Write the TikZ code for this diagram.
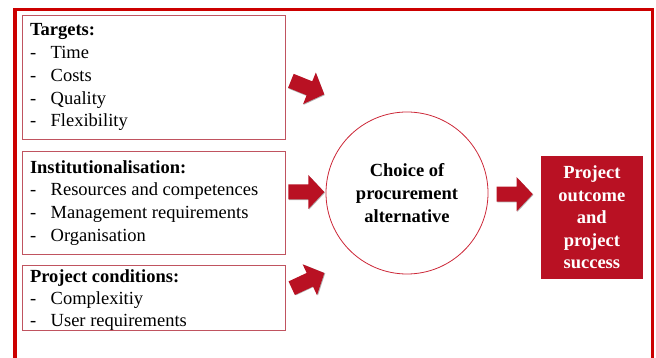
\documentclass[tikz,border=0pt]{standalone}
\usepackage{fontspec}
\setmainfont{Liberation Serif}
\definecolor{framered}{RGB}{204,0,0}
\definecolor{boxedge}{RGB}{192,84,96}
\definecolor{circedge}{RGB}{204,40,56}
\definecolor{crimson}{RGB}{185,17,35}

\tikzset{
  every node/.style={inner sep=0pt, outer sep=0pt},
  txt/.style={font=\fontsize{18.5}{22.7}\selectfont, anchor=base west},
  hdr/.style={txt, font=\fontsize{18.5}{22.7}\selectfont\bfseries},
  itembox/.style={draw=boxedge, line width=0.8pt, anchor=center},
  blockarrow/.pic={
    \fill[black!30, shift={(0.7,0.7)}]
      (0,-7.5) -- (20,-7.5) -- (20,-17) -- (36,0) -- (20,17) -- (20,7.5) -- (0,7.5) -- cycle;
    \fill[crimson]
      (0,-7.5) -- (20,-7.5) -- (20,-17) -- (36,0) -- (20,17) -- (20,7.5) -- (0,7.5) -- cycle;
  }
}

\begin{document}
\begin{tikzpicture}[x=1pt,y=-1pt]
\useasboundingbox (0,0) rectangle (656,358);
\clip (0,0) rectangle (656,358);

% outer frame, open past the lower edge
\draw[framered, line width=3.5pt] (15,9.5) rectangle (652.5,380);

% factor boxes
\node[itembox, minimum width=262.3pt, minimum height=124pt] (targets) at (153.85,77) {};
\node[itembox, minimum width=262.3pt, minimum height=102.3pt] (inst) at (153.85,202.85) {};
\node[itembox, minimum width=262.3pt, minimum height=64.3pt] (cond) at (153.85,297.85) {};

% Targets
\node[hdr] (tghead) at (30,36) {Targets:};
\foreach \t [count=\i] in {Time,Costs,Quality,Flexibility} {
  \node[txt] (tgd\i) at (30,36+22.7*\i) {-};
  \node[txt] (tgi\i) at (50.7,36+22.7*\i) {\t};
}

% Institutionalisation
\node[hdr] (inhead) at (30,173.3) {Institutionalisation:};
\foreach \t [count=\i] in {Resources and competences,Management requirements,Organisation} {
  \node[txt] (ind\i) at (30,173.3+22.6*\i) {-};
  \node[txt] (ini\i) at (50.7,173.3+22.6*\i) {\t};
}

% Project conditions
\node[hdr] (cohead) at (30,282.3) {Project conditions:};
\foreach \t [count=\i] in {Complexitiy,User requirements} {
  \node[txt] (cod\i) at (30,282.3+22.2*\i) {-};
  \node[txt] (coi\i) at (50.7,282.3+22.2*\i) {\t};
}

% central decision
\node[circle, draw=circedge, line width=0.8pt, minimum size=162pt, align=center,
      font=\fontsize{18.5}{23}\selectfont\bfseries] (choice) at (407,193)
  {Choice of\\procurement\\alternative};

% result
\node[fill=crimson, text=white, minimum width=101.7pt, minimum height=122.7pt, align=center,
      font=\fontsize{18.5}{22.5}\selectfont\bfseries] (outcome) at (591.85,217.35)
  {Project\\outcome\\and\\project\\success};

% block arrows
\pic[rotate=-22] (arrtg) at (290.9,80.8) {blockarrow};
\pic (arrin) at (288.3,192) {blockarrow};
\pic[rotate=25] (arrco) at (291.7,288.2) {blockarrow};
\pic (arrout) at (496.7,194.2) {blockarrow};
\end{tikzpicture}
\end{document}
